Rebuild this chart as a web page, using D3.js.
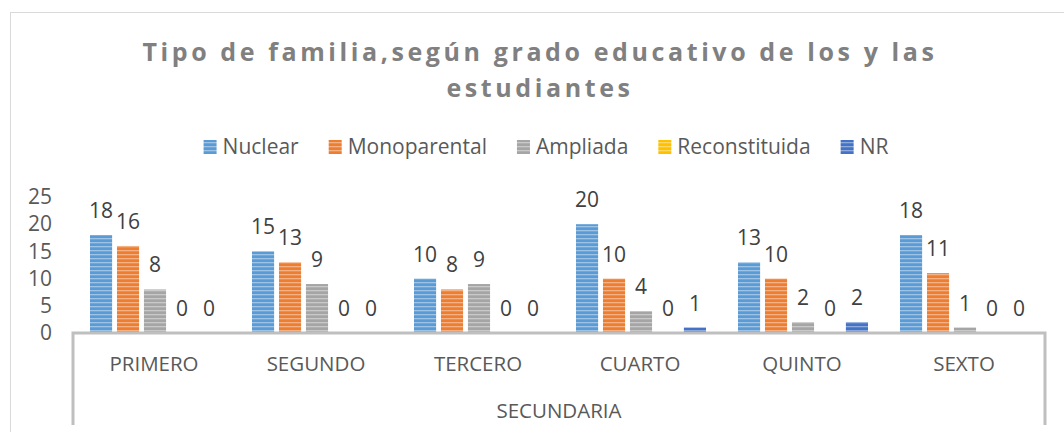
<!DOCTYPE html>
<html>
<head>
<meta charset="utf-8">
<script src="https://cdn.jsdelivr.net/npm/d3@7"></script>
<style>
  body { margin: 0; background: #fff; }
  text { font-family: 'Open Sans', sans-serif; }
</style>
</head>
<body>
<div id="chart"></div>
<script>
/****** DATA ******/
var categories = ["PRIMERO", "SEGUNDO", "TERCERO", "CUARTO", "QUINTO", "SEXTO"];
var seriesNames = ["Nuclear", "Monoparental", "Ampliada", "Reconstituida", "NR"];
var nuclear = [18, 15, 10, 20, 13, 18];
var monoparental = [16, 13, 8, 10, 10, 11];
var ampliada = [8, 9, 9, 4, 2, 1];
var reconstituida = [0, 0, 0, 0, 0, 0];
var nr = [0, 0, 0, 1, 2, 0];
var yTicks = [0, 5, 10, 15, 20, 25];
var groupLabel = "SECUNDARIA";
var titleLines = ["Tipo de familia,según grado educativo de los y las", "estudiantes"];

var seriesValues = [nuclear, monoparental, ampliada, reconstituida, nr];
var colors = ["#5B9BD5", "#ED7D31", "#A5A5A5", "#FFC000", "#4472C4"];

var width = 1064, height = 432;
var plot = {left: 73, right: 1045, top: 197, bottom: 333};

var svg = d3.select("#chart")
  .append("svg")
  .attr("width", width)
  .attr("height", height);

/****** STRIPED FILLS ******/
var defs = svg.append("defs");
colors.forEach(function(c, i) {
  var p = defs.append("pattern")
    .attr("id", "stripe" + i)
    .attr("patternUnits", "userSpaceOnUse")
    .attr("width", 8)
    .attr("height", 4);
  p.append("rect").attr("width", 8).attr("height", 4).attr("fill", c);
  p.append("rect").attr("y", 2).attr("width", 8).attr("height", 1.3)
    .attr("fill", "#fff").attr("opacity", 0.4);
});

// chart frame
svg.append("rect")
  .attr("x", 10.5).attr("y", 12.5)
  .attr("width", 1070).attr("height", 440)
  .attr("fill", "none")
  .attr("stroke", "#d9d9d9");

/****** TITLE ******/
svg.selectAll(".title")
  .data(titleLines)
  .enter()
  .append("text")
    .attr("class", "title")
    .attr("x", 540)
    .attr("y", function(d, i) { return 61 + i * 36; })
    .attr("text-anchor", "middle")
    .style("font-size", "25px")
    .style("font-weight", "bold")
    .style("letter-spacing", "3.6px")
    .style("fill", "#808080")
    .text(function(d) { return d; });

/****** LEGEND ******/
var legend = svg.append("g");
var items = legend.selectAll("g")
  .data(seriesNames)
  .enter()
  .append("g");
items.append("rect")
  .attr("y", 140)
  .attr("width", 13).attr("height", 14)
  .attr("fill", function(d, i) { return "url(#stripe" + i + ")"; });
items.append("text")
  .attr("x", 19)
  .attr("y", 154)
  .style("font-size", "21px")
  .style("fill", "#595959")
  .text(function(d) { return d; });

var xpos = 0, offsets = [];
items.each(function() {
  offsets.push(xpos);
  xpos += 19 + d3.select(this).select("text").node().getComputedTextLength() + 30;
});
var legendStart = 546 - (xpos - 30) / 2;
items.attr("transform", function(d, i) { return "translate(" + (legendStart + offsets[i]) + ",0)"; });

/****** SCALES ******/
var x0 = d3.scaleBand()
  .domain(categories)
  .range([plot.left, plot.right]);

var x1 = d3.scaleBand()
  .domain(d3.range(seriesNames.length))
  .range([17, 147])
  .paddingInner(0.18);

var y = d3.scaleLinear()
  .domain([0, 25])
  .range([plot.bottom, plot.top]);

/****** Y AXIS ******/
var yAxis = svg.append("g")
  .attr("transform", "translate(52,0)")
  .call(d3.axisLeft(y).tickValues(yTicks).tickSize(0).tickPadding(0));
yAxis.select(".domain").remove();
yAxis.selectAll("text")
  .style("font-size", "21px")
  .style("font-family", "'Open Sans', sans-serif")
  .style("fill", "#595959");

/****** BARS ******/
var groups = svg.selectAll(".cat")
  .data(categories)
  .enter()
  .append("g")
    .attr("class", "cat")
    .attr("transform", function(d) { return "translate(" + x0(d) + ",0)"; });

var cells = groups.selectAll(".bar")
  .data(function(d, ci) {
    return seriesValues.map(function(vals, si) { return {s: si, v: vals[ci]}; });
  })
  .enter();

cells.append("rect")
  .attr("class", "bar")
  .attr("x", function(d) { return x1(d.s); })
  .attr("y", function(d) { return y(d.v); })
  .attr("width", x1.bandwidth())
  .attr("height", function(d) { return y(0) - y(d.v); })
  .attr("fill", function(d) { return "url(#stripe" + d.s + ")"; });

cells.append("text")
  .attr("x", function(d) { return x1(d.s) + x1.bandwidth() / 2; })
  .attr("y", function(d) { return y(d.v) - 17; })
  .attr("text-anchor", "middle")
  .style("font-size", "21px")
  .style("fill", "#404040")
  .text(function(d) { return d.v; });

/****** X AXIS ******/
svg.append("path")
  .attr("d", "M" + plot.left + ",425V" + plot.bottom + "H" + plot.right + "V425")
  .attr("fill", "none")
  .attr("stroke", "#bfbfbf")
  .attr("stroke-width", 3);

svg.selectAll(".catlabel")
  .data(categories)
  .enter()
  .append("text")
    .attr("x", function(d) { return x0(d) + x0.bandwidth() / 2; })
    .attr("y", 371)
    .attr("text-anchor", "middle")
    .style("font-size", "20.5px")
    .style("fill", "#595959")
    .text(function(d) { return d; });

svg.append("text")
  .attr("x", (plot.left + plot.right) / 2)
  .attr("y", 418)
  .attr("text-anchor", "middle")
  .style("font-size", "20.5px")
  .style("fill", "#595959")
  .text(groupLabel);
</script>
</body>
</html>
